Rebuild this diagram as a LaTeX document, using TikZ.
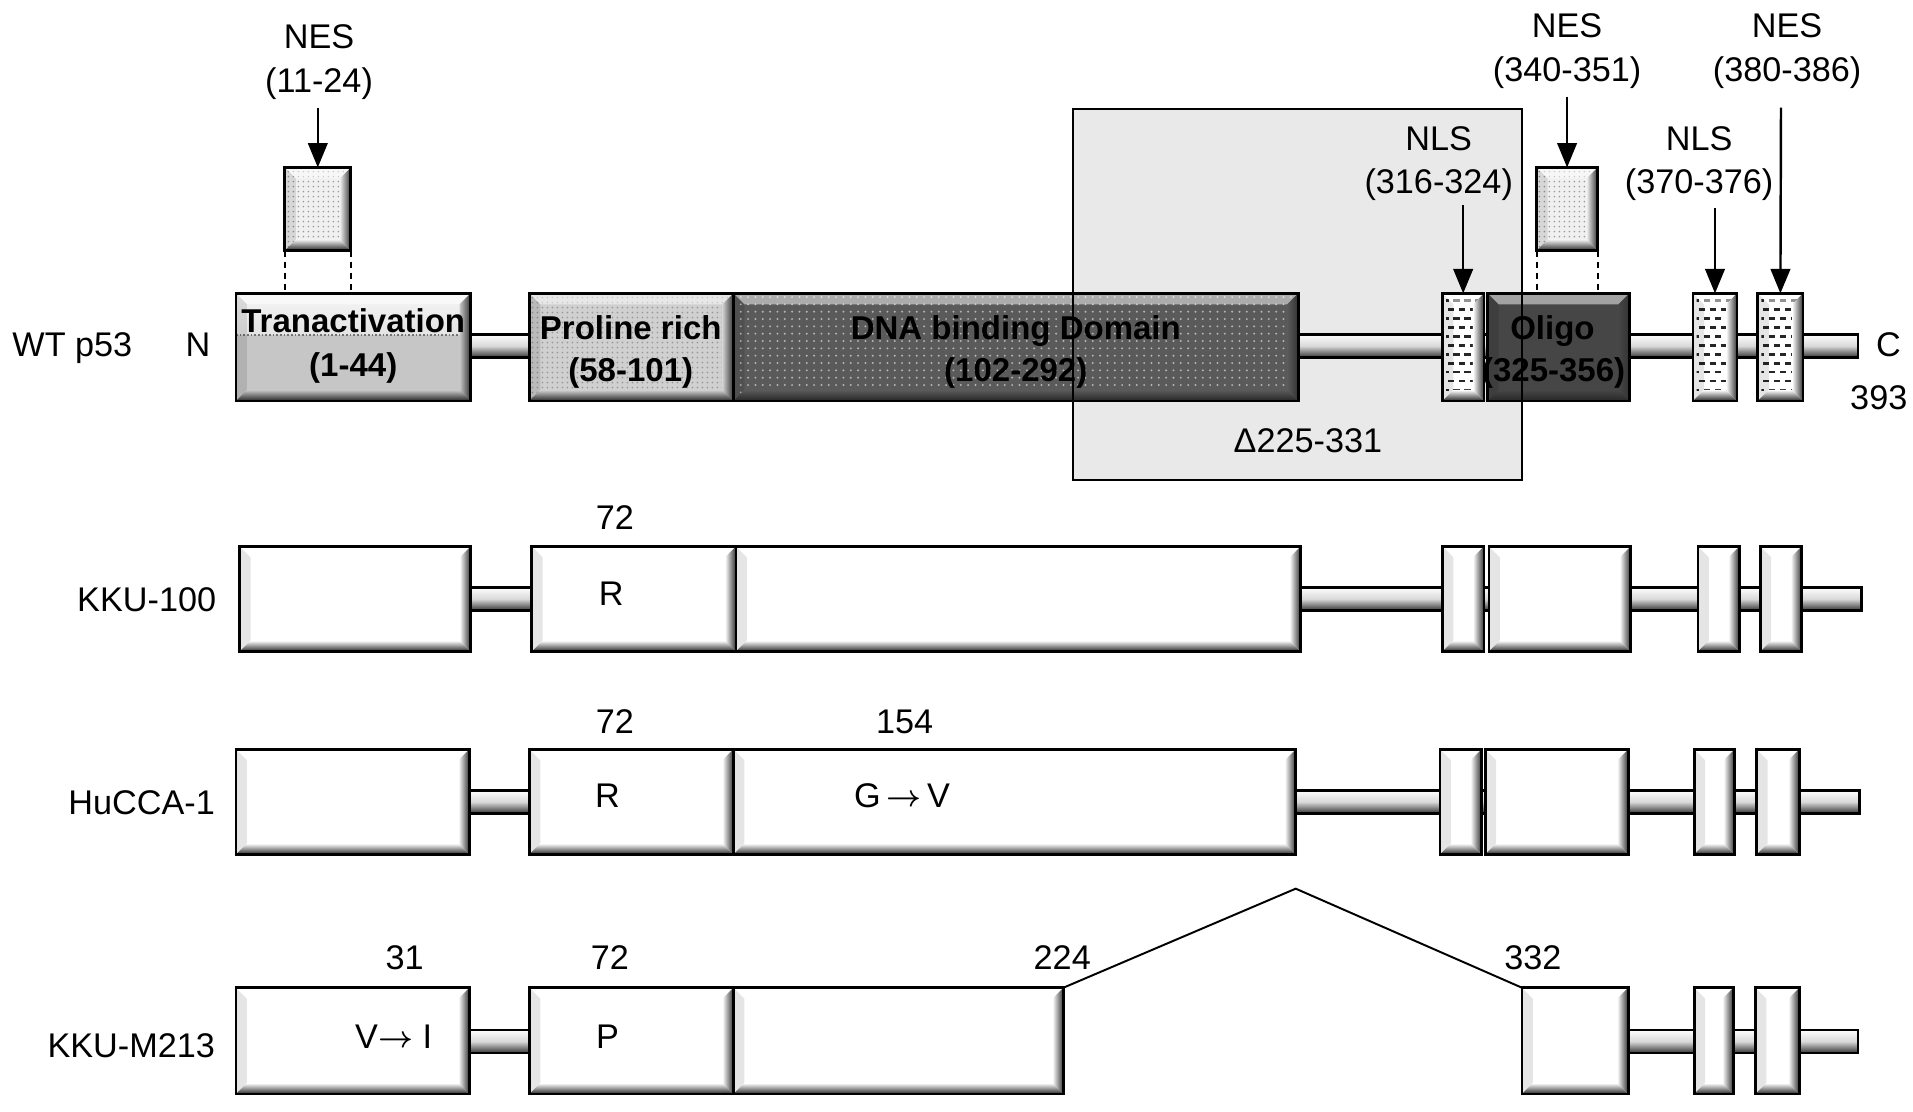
\documentclass[tikz,border=0pt]{standalone}
\usepackage{fontspec}
\setmainfont{Liberation Sans}
\usetikzlibrary{arrows.meta,patterns.meta,calc}
\definecolor{dnag}{HTML}{5A5A5A}
\definecolor{olig}{HTML}{464646}
\definecolor{prol}{HTML}{D0D0D0}
\definecolor{tabot}{HTML}{C6C6C6}
\definecolor{tatop}{HTML}{E4E4E4}
\definecolor{delt}{HTML}{E9E9E9}
\newcommand\lf{\fontsize{28}{32}\selectfont}
\newcommand\bfnt{\fontsize{27}{30}\selectfont\bfseries}
\newcommand\mutarrow{\raisebox{1pt}{$\boldsymbol{\rightarrow}$}}
\usepackage{amsmath,bm}
\def\bevw{9}
\tikzset{
  bx/.style={line width=2.2pt, draw=black},
  lbl/.style={inner sep=0pt, text height=20pt, text depth=0pt, font=\lf},
  blbl/.style={inner sep=0pt, text height=20pt, text depth=0pt, font=\bfnt},
  arr/.style={line width=2pt, -{Triangle[length=20pt,width=16pt]}},
  dsh/.style={line width=1.6pt, dash pattern=on 5pt off 4pt},
  spl/.style={line width=1.6pt},
  deltabox/.style={line width=1.8pt, draw=black}
}
\newcommand{\bevel}[5]{%
  \fill[white,opacity=.5] (#1,#2) -- (#3,#2) -- (#3-\bevw,#2+\bevw) -- (#1+\bevw,#2+\bevw) -- cycle;
  \fill[black,opacity=.10] (#1,#2) -- (#1+\bevw,#2+\bevw) -- (#1+\bevw,#4-\bevw) -- (#1,#4) -- cycle;
  \shade[top color=#5, bottom color=black!85] (#1,#4) -- (#1+\bevw,#4-\bevw) -- (#3-\bevw,#4-\bevw) -- (#3,#4) -- cycle;
  \shade[left color=#5, right color=black!80] (#3,#2) -- (#3-\bevw,#2+\bevw) -- (#3-\bevw,#4-\bevw) -- (#3,#4) -- cycle;
  \draw[bx] (#1,#2) rectangle (#3,#4);
}
\newcommand{\bevbox}[7][]{%
  \fill[#7] (#3,#4) rectangle (#5,#6);
  \path[#1] (#3,#4) rectangle (#5,#6);
  \bevel{#3}{#4}{#5}{#6}{#7}%
  \coordinate (#2) at ({(#3+#5)/2},#4);
  \coordinate (#2-sw) at (#3,#6);
  \coordinate (#2-se) at (#5,#6);
  \coordinate (#2-ne) at (#5,#4);
  \coordinate (#2-nw) at (#3,#4);
}
\newcommand{\nlsbox}[5]{%
  \fill[white] (#2,#3) rectangle (#4,#5);
  \begin{scope}
    \clip (#2+3,#3+3) rectangle (#4-3,#5-3);
    \foreach \k in {0,...,11} {
      \pgfmathsetmacro\yy{#3+6+\k*7.3}
      \pgfmathsetmacro\xo{mod(\k,2)*4.5}
      \draw[line width=2.2pt, black!85, dash pattern=on 5pt off 4pt, dash phase=\xo pt] (#2,\yy) -- (#4,\yy);
    }
  \end{scope}
  \bevel{#2}{#3}{#4}{#5}{white}%
  \coordinate (#1) at ({(#2+#4)/2},#3);
}
\newcommand{\rod}[3]{%
  \shade[top color=white, bottom color=black!80, middle color=white!85!black] (#1,#3-9.5) rectangle (#2,#3+9.5);
  \draw[line width=2.2pt] (#1,#3-9.5) -- (#2,#3-9.5) -- (#2,#3+9.5) -- (#1,#3+9.5);
}
\begin{document}
\begin{tikzpicture}[x=1pt,y=-1pt]
\fill[white] (0,0) rectangle (1565,909);
\useasboundingbox (0,0) rectangle (1565,909);

% ---------- deletion box background
\fill[delt] (878,89) rectangle (1245,393);

% ---------- WT p53 row
\rod{300}{1520}{283}
% Tranactivation (split fill)
\fill[tabot] (193,240) rectangle (385,328);
\shade[top color=white!96!black, bottom color=tatop] (193,240) rectangle (385,274);
\draw[line width=1pt, black!55, dash pattern=on 1.5pt off 1.5pt] (193,274) -- (385,274);
\bevel{193}{240}{385}{328}{tabot}
\coordinate (ta) at (289,240);
\bevbox[pattern={Dots[distance=4pt,radius=0.8pt]}, pattern color=black!40]{pr}{433}{240}{600}{328}{prol}
\bevbox[pattern={Dots[distance=6pt,radius=0.9pt]}, pattern color=white!55!dnag]{dna}{600}{240}{1062}{328}{dnag}
\nlsbox{nls1}{1180}{240}{1214}{328}
\bevbox{olg}{1217}{240}{1333}{328}{olig}
\nlsbox{nls2}{1385}{240}{1421}{328}
\nlsbox{nes3}{1438}{240}{1475}{328}

% NES boxes on top
\bevbox[pattern={Dots[distance=4pt,radius=0.7pt]}, pattern color=black!40]{nesb1}{233}{137}{287}{205}{white!94!black}
\bevbox[pattern={Dots[distance=4pt,radius=0.7pt]}, pattern color=black!40]{nesb2}{1257}{137}{1307}{205}{white!94!black}
\draw[dsh] (nesb1-sw) -- (nesb1-sw |- ta);
\draw[dsh] (nesb1-se) -- (nesb1-se |- ta);
\draw[dsh] (nesb2-sw) -- (nesb2-sw |- olg);
\draw[dsh] (nesb2-se) -- (nesb2-se |- olg);

% texts in WT boxes
\node[blbl] (tTa) at (289,262) {Tranactivation};
\node[blbl] (tTb) at (289,298) {(1-44)};
\node[blbl] (tPa) at (516,268) {Proline rich};
\node[blbl] (tPb) at (516,302) {(58-101)};
\node[blbl] (tDa) at (831,268) {DNA binding Domain};
\node[blbl] (tDb) at (831,302) {(102-292)};
\node[blbl] (tOa) at (1270,268) {Oligo};
\node[blbl] (tOb) at (1271,302) {(325-356)};

% deletion box border and label
\draw[deltabox] (878,89) rectangle (1245,393);
\node[lbl] (del) at (1070,360) {Δ225-331};

% row labels
\node[lbl, anchor=west] (wt) at (10,282) {WT p53};
\node[lbl] (nN) at (162,282) {N};
\node[lbl] (nC) at (1545,282) {C};
\node[lbl] (n393) at (1537,325) {393};

% top annotations
\node[lbl] (l1a) at (261,30) {NES};
\node[lbl] (l1b) at (261,66) {(11-24)};
\node[lbl] (l2a) at (1177,113) {NLS};
\node[lbl] (l2b) at (1177,148) {(316-324)};
\node[lbl] (l3a) at (1282,21) {NES};
\node[lbl] (l3b) at (1282,57) {(340-351)};
\node[lbl] (l4a) at (1390,113) {NLS};
\node[lbl] (l4b) at (1390,148) {(370-376)};
\node[lbl] (l5a) at (1462,21) {NES};
\node[lbl] (l5b) at (1462,57) {(380-386)};

\coordinate (s1) at (260,88);
\coordinate (s2) at (1197,168);
\coordinate (s3) at (1282,79);
\coordinate (s4) at (1403,170);
\coordinate (s5) at (1457,88);
\draw[arr] (s1) -- (nesb1);
\draw[arr] (s2) -- (nls1);
\draw[arr] (s3) -- (nesb2);
\draw[arr] (s4) -- (nls2);
\draw[arr] (s5) -- (nes3);

% ---------- KKU-100 row
\rod{300}{1523}{490}
\bevbox{a1}{196}{447}{385}{533}{white}
\bevbox{a2}{435}{447}{602}{533}{white}
\bevbox{a3}{602}{447}{1064}{533}{white}
\bevbox{a4}{1180}{447}{1214}{533}{white}
\bevbox{a5}{1218}{447}{1334}{533}{white}
\bevbox{a6}{1389}{447}{1423}{533}{white}
\bevbox{a7}{1440}{447}{1474}{533}{white}
\node[lbl, anchor=east] (kk1) at (177,490) {KKU-100};
\node[lbl] (a72) at (503,423) {72};
\node[lbl] (aR) at (500,485) {R};

% ---------- HuCCA-1 row
\rod{300}{1521}{656}
\bevbox{b1}{193}{613}{384}{699}{white}
\bevbox{b2}{433}{613}{600}{699}{white}
\bevbox{b3}{600}{613}{1060}{699}{white}
\bevbox{b4}{1178}{613}{1212}{699}{white}
\bevbox{b5}{1215}{613}{1332}{699}{white}
\bevbox{b6}{1386}{613}{1419}{699}{white}
\bevbox{b7}{1437}{613}{1472}{699}{white}
\node[lbl, anchor=east] (hu) at (176,656) {HuCCA-1};
\node[lbl] (b72) at (503,590) {72};
\node[lbl] (bR) at (497,651) {R};
\node[lbl] (b154) at (740,590) {154};
\node[lbl] (bGV) at (738,651) {G\,\mutarrow\,V};

% ---------- KKU-M213 row
\rod{300}{450}{852}
\rod{1300}{1520}{852}
\bevbox{c1}{193}{808}{384}{895}{white}
\bevbox{c2}{433}{808}{600}{895}{white}
\bevbox{c3}{600}{808}{870}{895}{white}
\bevbox{c4}{1245}{808}{1332}{895}{white}
\bevbox{c5}{1386}{808}{1418}{895}{white}
\bevbox{c6}{1436}{808}{1472}{895}{white}
\node[lbl, anchor=east] (km) at (176,855) {KKU-M213};
\node[lbl] (c31) at (331,783) {31};
\node[lbl] (cVI) at (322,848) {V\mutarrow\ I};
\node[lbl] (c72) at (499,783) {72};
\node[lbl] (cP) at (497,848) {P};
\node[lbl] (c224) at (869,783) {224};
\node[lbl] (c332) at (1254,783) {332};
\coordinate (apex) at (1060,727);
\draw[spl] (c3-ne) -- (apex) -- (c4-nw);
\end{tikzpicture}
\end{document}
